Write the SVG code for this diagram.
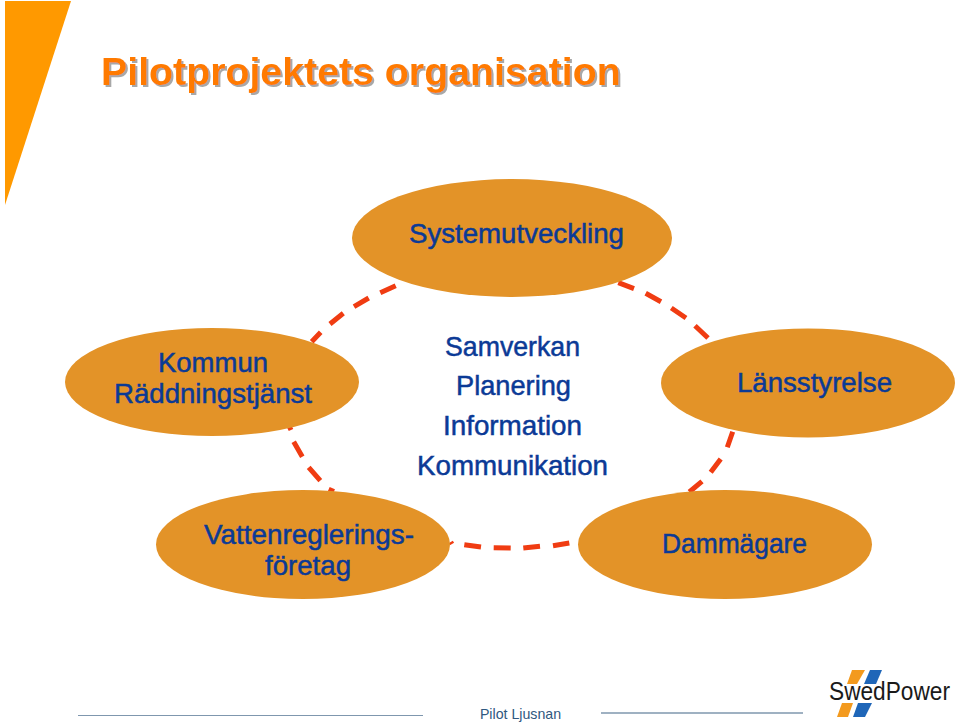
<svg xmlns="http://www.w3.org/2000/svg" width="960" height="722" viewBox="0 0 960 722">
<style>
.n{fill:#E39328}
.t{font-family:"Liberation Sans",Arial,sans-serif;font-size:27.5px;fill:#0B3A96;stroke:#0B3A96;stroke-width:.5;text-anchor:middle}
.d{fill:none;stroke:#F03C12;stroke-width:5}
.b{fill:#1F66B8}.o{fill:#F39A1E}
.r{stroke:#7F97AE;fill:none}
</style>
<defs><filter id="s" x="-5%" y="-20%" width="110%" height="150%"><feDropShadow dx="2" dy="2" stdDeviation=".6" flood-color="#A8A8A8"/></filter></defs>
<rect width="960" height="722" fill="#fff"/>
<polygon id="corner" points="5,1 71,1 5,205" fill="#FF9900"/>
<text id="title" x="101" y="85" font-family="'Liberation Sans',Arial,sans-serif" font-size="39.300" font-weight="700" fill="#FF7A00" filter="url(#s)">Pilotprojektets organisation</text>
<g id="connectors" class="d">
<path d="M311.7 341.7L320.7 332.3M330 324L343.3 313.3M354 306.7L368.7 298M380.3 292.7L395.7 285.7"/>
<path d="M618.3 282.7L634 288.7M645.7 293.3L661 301.7M671.3 308L686 318M695 325.7L708 338"/>
<path d="M732.7 431.7L727.3 447.3M720.7 459L710.7 472.3M702 481.3L689.3 492"/>
<path d="M450.7 542L452 544M464.3 544.7L481 547M493.7 547.7L510.7 548M523.3 548L540 546.3M553 545.7L569.3 543"/>
<path d="M289.5 427L291 430M293.7 441.7L302.3 456.7M308.7 467.3L320.3 480.7M328.7 489.3L334 491.5"/>
</g>
<g id="node-systemutveckling"><ellipse class="n" cx="512" cy="238" rx="160" ry="59"/><text class="t" x="516.500" y="243" textLength="215" lengthAdjust="spacingAndGlyphs">Systemutveckling</text></g>
<g id="node-kommun"><ellipse class="n" cx="212" cy="382" rx="147" ry="54"/><text class="t" x="213" y="372" textLength="110" lengthAdjust="spacingAndGlyphs">Kommun</text><text class="t" x="213" y="403" textLength="198" lengthAdjust="spacingAndGlyphs">Räddningstjänst</text></g>
<g id="node-lansstyrelse"><ellipse class="n" cx="808" cy="383" rx="147" ry="54.500"/><text class="t" x="814.500" y="392" textLength="155" lengthAdjust="spacingAndGlyphs">Länsstyrelse</text></g>
<g id="node-vatten"><ellipse class="n" cx="303" cy="544.500" rx="147" ry="54.500"/><text class="t" x="309" y="544" textLength="210" lengthAdjust="spacingAndGlyphs">Vattenreglerings-</text><text class="t" x="308" y="575" textLength="86" lengthAdjust="spacingAndGlyphs">företag</text></g>
<g id="node-dammagare"><ellipse class="n" cx="725" cy="544.500" rx="147" ry="54.500"/><text class="t" x="734.500" y="553" textLength="145" lengthAdjust="spacingAndGlyphs">Dammägare</text></g>
<g id="node-center"><text class="t" x="512.500" y="356" textLength="135" lengthAdjust="spacingAndGlyphs">Samverkan</text><text class="t" x="513.500" y="395" textLength="115" lengthAdjust="spacingAndGlyphs">Planering</text><text class="t" x="512.500" y="435" textLength="139" lengthAdjust="spacingAndGlyphs">Information</text><text class="t" x="512.500" y="475" textLength="191" lengthAdjust="spacingAndGlyphs">Kommunikation</text></g>
<g id="footer">
<line class="r" x1="78" y1="715.500" x2="423" y2="715.500" stroke-width="1"/>
<line class="r" x1="601" y1="713" x2="803" y2="713" stroke-width="1.500"/>
<text x="520.500" y="719" font-family="'Liberation Sans',Arial,sans-serif" font-size="14.200" fill="#2F5880" text-anchor="middle">Pilot Ljusnan</text>
</g>
<g id="logo">
<polygon class="o" points="852,670 865,670 857,684 847,684"/>
<polygon class="b" points="870,670 882,670 876,684 864,684"/>
<polygon class="o" points="842,703 853,703 848,717 837,717"/>
<polygon class="b" points="858,703 872,703 865,717 853,717"/>
<text x="829" y="700" font-family="'Liberation Sans',Arial,sans-serif" font-size="26" fill="#1A1A1A" textLength="121" lengthAdjust="spacingAndGlyphs">SwedPower</text>
</g>
</svg>
